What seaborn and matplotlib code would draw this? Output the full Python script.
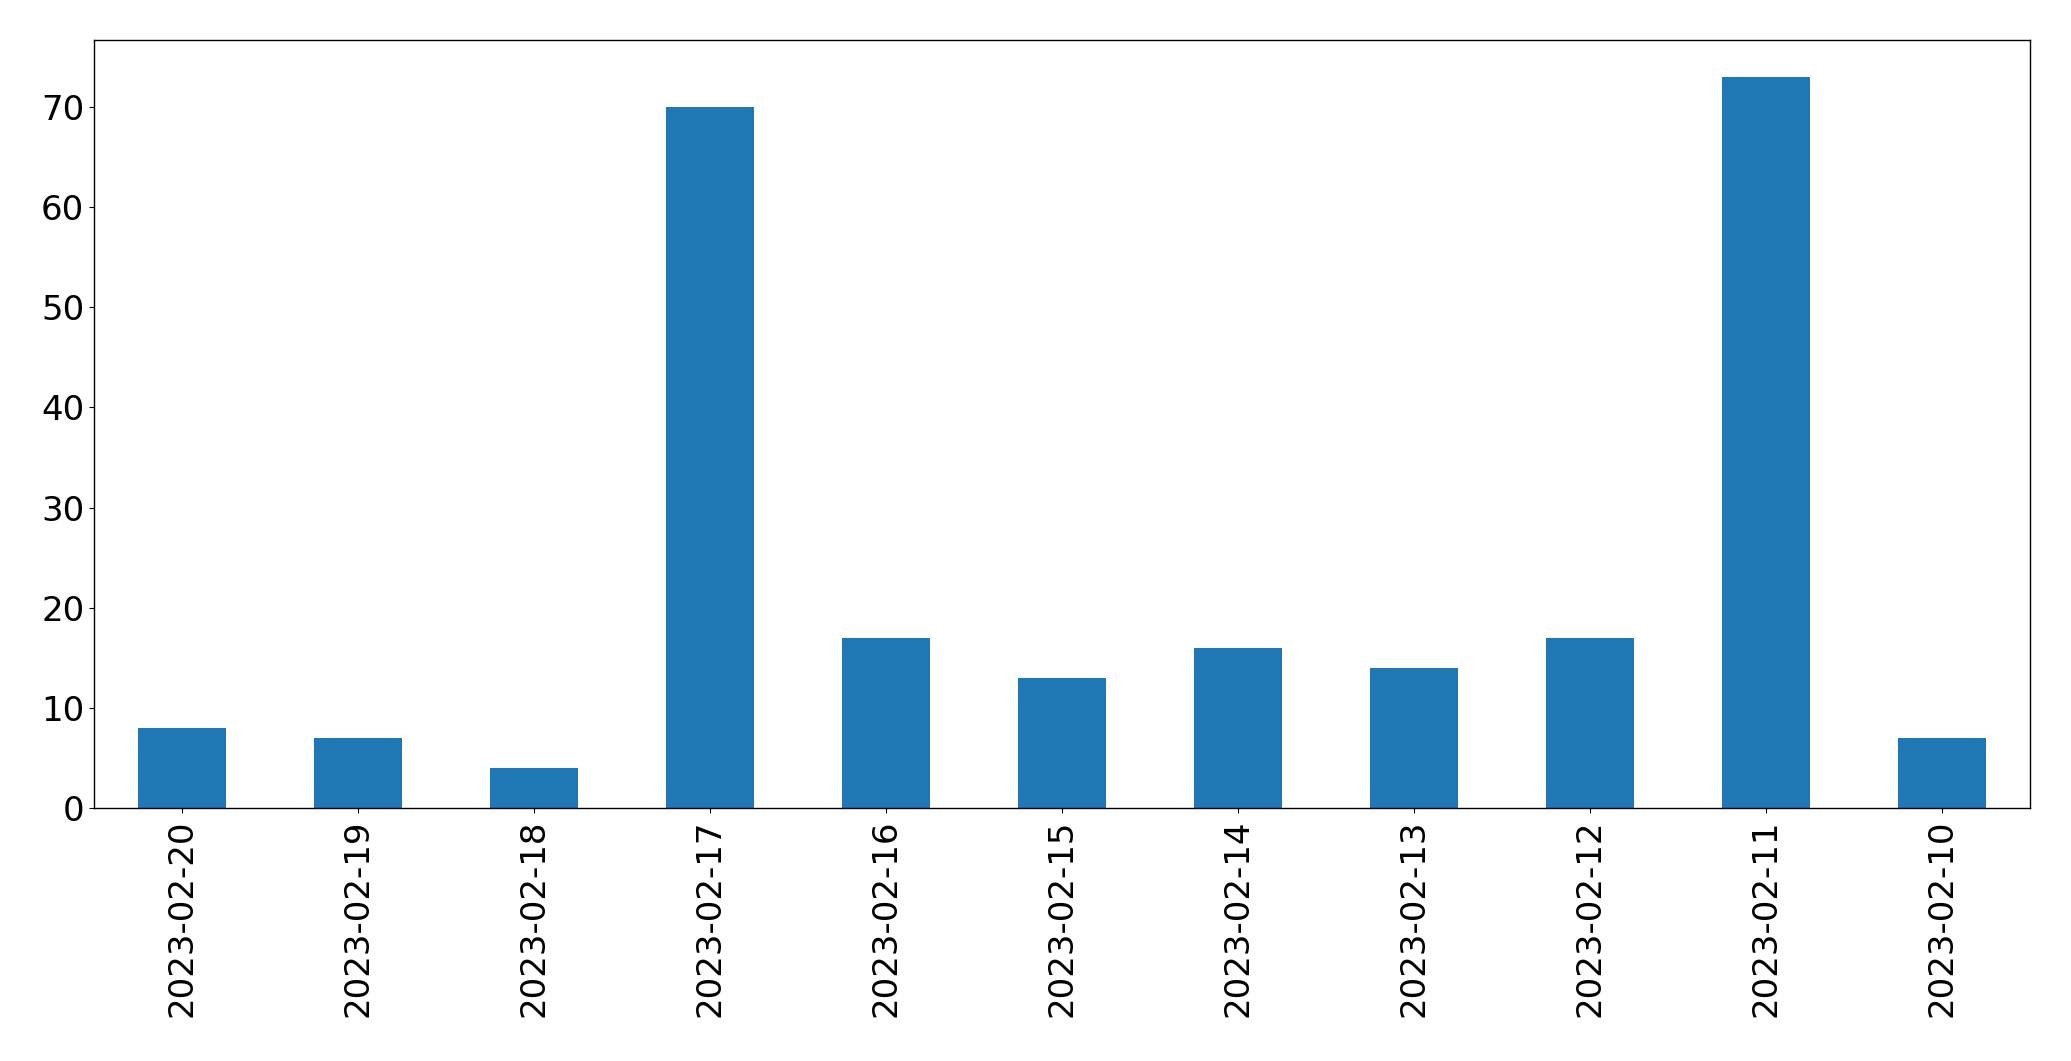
import matplotlib
matplotlib.use("Agg")
import matplotlib.pyplot as plt
import seaborn as sns
import pandas as pd

dates = ["2023-02-20", "2023-02-19", "2023-02-18", "2023-02-17", "2023-02-16",
         "2023-02-15", "2023-02-14", "2023-02-13", "2023-02-12", "2023-02-11",
         "2023-02-10"]
counts = [8, 7, 4, 70, 17, 13, 16, 14, 17, 73, 7]

df = pd.DataFrame({"date": dates, "count": counts})

fig = plt.figure(figsize=(20.71, 10.61), dpi=100)
ax = fig.add_axes([0.0454, 0.2385, 0.9346, 0.7235])
sns.barplot(data=df, x="date", y="count", order=dates, color="#1f77b4",
            saturation=1, width=0.5, ax=ax)
ax.set_xlim(-0.5, len(dates) - 0.5)
ax.set_ylim(0, max(counts) * 1.05)
ax.set_xlabel("")
ax.set_ylabel("")
ax.tick_params(axis="both", labelsize=24.5)
ax.tick_params(axis="x", labelrotation=90, pad=5)
for s in ax.spines.values():
    s.set_linewidth(1.0)
fig.savefig("out.png", dpi=100)
